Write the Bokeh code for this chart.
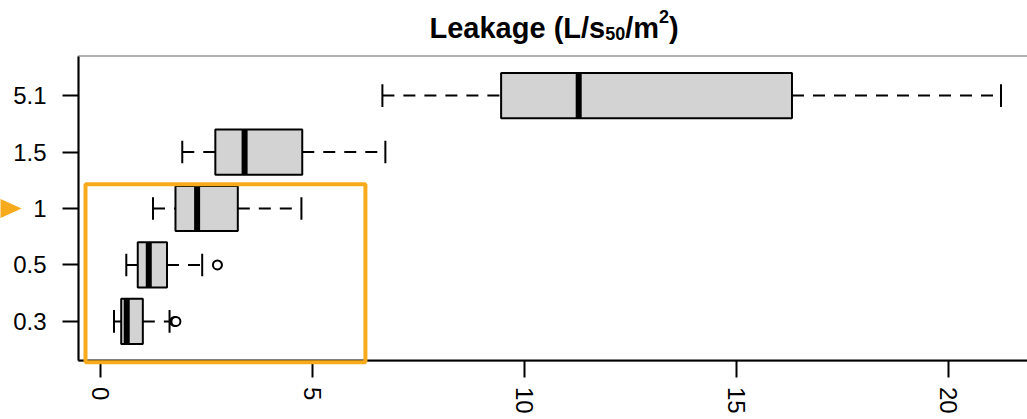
from bokeh.plotting import figure
from bokeh.models import (ColumnDataSource, FactorRange, Range1d, FixedTicker,
                          BoxAnnotation, PolyAnnotation, Label)
from bokeh.transform import dodge
from bokeh.embed import file_html
from bokeh.resources import INLINE

# ---- data ----
categories = ["0.3", "0.5", "1", "1.5", "5.1"]
whisker_low = [0.33, 0.62, 1.25, 1.94, 6.66]
q1 = [0.50, 0.89, 1.78, 2.72, 9.46]
median = [0.63, 1.15, 2.29, 3.41, 11.29]
q3 = [1.01, 1.58, 3.25, 4.77, 16.32]
whisker_high = [1.64, 2.41, 4.75, 6.73, 21.25]
outlier_cats = ["0.3", "0.3", "0.5"]
outlier_vals = [1.76, 1.79, 2.77]
x_ticks = [0, 5, 10, 15, 20]

ORANGE = "#F7AA1C"
FONT = "Liberation Sans"

# plot-box limits (data units) and canvas extents
X_LO, X_HI = -0.507, 21.875
Y_LO, Y_HI = -0.2, 5.2

src = ColumnDataSource(dict(cat=categories, wlo=whisker_low, q1=q1, med=median,
                            q3=q3, whi=whisker_high))
out_src = ColumnDataSource(dict(cat=outlier_cats, val=outlier_vals))

yr = FactorRange(factors=categories, range_padding=1.185, range_padding_units="absolute")
p = figure(width=1027, height=419, output_backend="svg", toolbar_location=None,
           y_range=yr, x_range=Range1d(-2.347, X_HI),
           min_border_left=0, min_border_right=0, min_border_top=0,
           min_border_bottom=3)

p.outline_line_color = None
p.xgrid.grid_line_color = None
p.ygrid.grid_line_color = None
p.background_fill_color = "white"
p.border_fill_color = "white"

for ax in (p.xaxis[0], p.yaxis[0]):
    ax.axis_line_width = 2
    ax.axis_line_color = "black"
    ax.major_tick_line_width = 2
    ax.major_tick_line_color = "black"
    ax.major_tick_in = 0
    ax.minor_tick_line_color = None
    ax.major_label_text_font = FONT
    ax.major_label_text_color = "black"

p.xaxis.ticker = FixedTicker(ticks=x_ticks)
p.xaxis.fixed_location = Y_LO
p.xaxis.bounds = (X_LO, X_HI)
p.xaxis.major_tick_out = 17
p.xaxis.major_label_standoff = 9
p.xaxis.major_label_orientation = "vertical"
p.xaxis.major_label_text_font_size = "24px"

p.yaxis.fixed_location = X_LO
p.yaxis.bounds = (Y_LO, Y_HI)
p.yaxis.major_tick_out = 16
p.yaxis.major_label_standoff = 16
p.yaxis.major_label_text_font_size = "24px"

# plot box (left, top, bottom; right side runs off the canvas)
p.add_layout(BoxAnnotation(left=X_LO, right=X_HI + 1, bottom=Y_LO, top=Y_HI,
                           fill_color=None, fill_alpha=0, line_color="black",
                           line_width=2))

# whiskers
p.segment(x0="wlo", y0="cat", x1="q1", y1="cat", source=src, line_color="black",
          line_width=2, line_dash="12 9")
p.segment(x0="q3", y0="cat", x1="whi", y1="cat", source=src, line_color="black",
          line_width=2, line_dash="12 9")
# staples
p.segment(x0="wlo", y0=dodge("cat", -0.2, range=yr), x1="wlo",
          y1=dodge("cat", 0.2, range=yr), source=src, line_color="black", line_width=2)
p.segment(x0="whi", y0=dodge("cat", -0.2, range=yr), x1="whi",
          y1=dodge("cat", 0.2, range=yr), source=src, line_color="black", line_width=2)
# boxes
p.hbar(y="cat", left="q1", right="q3", height=0.8, source=src, fill_color="#D3D3D3",
       line_color="black", line_width=2)
# medians
p.segment(x0="med", y0=dodge("cat", -0.4, range=yr), x1="med",
          y1=dodge("cat", 0.4, range=yr), source=src, line_color="black", line_width=6)
# outliers
p.scatter(x="val", y="cat", source=out_src, marker="circle", size=9,
          fill_color="white", line_color="black", line_width=2)

# orange highlight box and arrow
p.add_layout(BoxAnnotation(left=-0.342, right=6.26, bottom=-0.222, top=2.928,
                           fill_color=None, fill_alpha=0, line_color=ORANGE,
                           line_width=4, line_alpha=1))
p.add_layout(PolyAnnotation(xs=[-2.50, -1.85, -2.50], ys=[2.72, 2.5, 2.28],
                            fill_color=ORANGE, fill_alpha=1, line_color=None))

# title: Leakage (L/s50/m2) with sub/superscripts
TITLE_X, TITLE_Y = 7.771, 5.70
title_parts = [("Leakage (L/s", 0, 0, "29px"), ("50", 175.7, -6, "18px"),
               ("/m", 195.7, 0, "29px"), ("2", 229.5, 11, "18px"),
               (")", 239.5, 0, "29px")]
for txt, dx, dy, size in title_parts:
    p.add_layout(Label(x=TITLE_X, y=TITLE_Y, x_offset=dx, y_offset=dy, text=txt,
                       text_font=FONT, text_font_style="bold", text_font_size=size,
                       text_color="black", text_baseline="alphabetic",
                       text_align="left"))

open("out.html", "w").write(file_html(p, INLINE))
